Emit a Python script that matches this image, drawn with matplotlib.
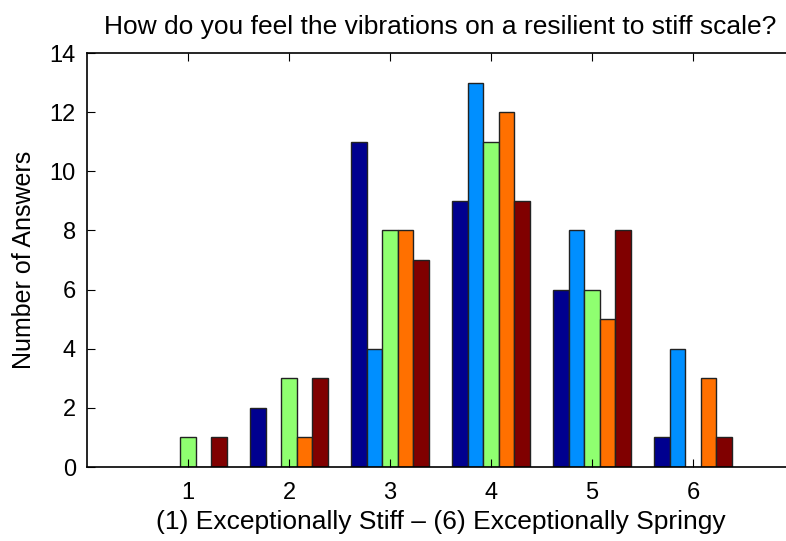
import numpy as np
import matplotlib
matplotlib.use("Agg")
import matplotlib.pyplot as plt

plt.rcParams['font.family'] = ['Liberation Sans', 'DejaVu Sans']

# answers per rating (1..6) for each of the 5 groups
ratings = [1, 2, 3, 4, 5, 6]
series_a = [0, 2, 11, 9, 6, 1]
series_b = [0, 0, 4, 13, 8, 4]
series_c = [1, 3, 8, 11, 6, 0]
series_d = [0, 1, 8, 12, 5, 3]
series_e = [1, 3, 7, 9, 8, 1]

colors = ['#00008f', '#008fff', '#8fff70', '#ff7000', '#800000']
series = [series_a, series_b, series_c, series_d, series_e]

fig = plt.figure(figsize=(7.86, 5.41), dpi=100)
# axes runs past the right edge, as in the original screenshot
ax = fig.add_axes([87/786, 1 - 467/541, 707/786, 414/541])

n = len(series)
width = 0.769 / n
x = np.array(ratings)
for i, vals in enumerate(series):
    offs = (i - (n - 1) / 2) * width
    ax.bar(x + offs, vals, width=width, color=colors[i], edgecolor='#222222', linewidth=1)

ax.set_xlim(0, 7)
ax.set_ylim(0, 14)
ax.set_xticks(ratings)
ax.set_yticks(range(0, 15, 2))
ax.tick_params(direction='in', top=True, right=True, labelsize=17, length=6)
ax.tick_params(axis='y', pad=8)
ax.tick_params(axis='x', pad=11)
for s in ax.spines.values():
    s.set_linewidth(1.2)

ax.set_title('How do you feel the vibrations on a resilient to stiff scale?', fontsize=19, pad=14)
ax.set_xlabel('(1) Exceptionally Stiff – (6) Exceptionally Springy', fontsize=19, labelpad=4)
ax.set_ylabel('Number of Answers', fontsize=18, labelpad=10)

fig.savefig('out.png', dpi=100)
